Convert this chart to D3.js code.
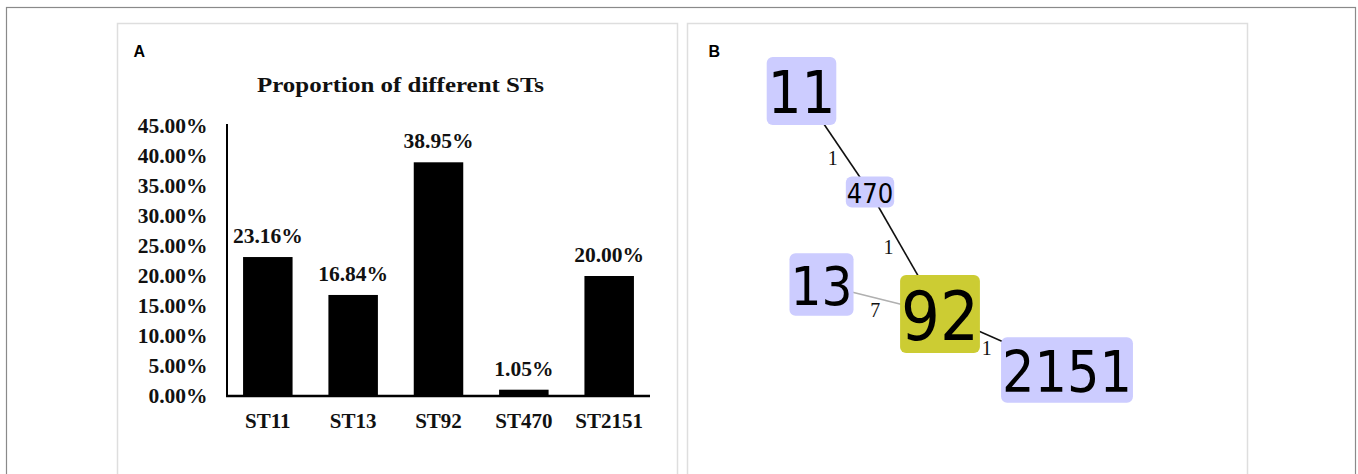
<!DOCTYPE html>
<html>
<head>
<meta charset="utf-8">
<script src="https://cdn.jsdelivr.net/npm/d3@7"></script>
<style>
html, body { margin: 0; padding: 0; background: #fff; }
svg { display: block; }
.serif { font-family: "Liberation Serif", "Times New Roman", serif; font-weight: bold; }
</style>
</head>
<body>
<svg id="fig" width="1358" height="474"></svg>
<script>
// ---- panel A: bar chart data ----
var categories = ["ST11", "ST13", "ST92", "ST470", "ST2151"];
var proportions = [23.16, 16.84, 38.95, 1.05, 20.00];
var yTicks = [0, 5, 10, 15, 20, 25, 30, 35, 40, 45];

// ---- panel B: minimum spanning tree data ----
var nodeNames = ["11", "470", "13", "92", "2151"];
var nodeCounts = [22, 1, 16, 37, 19];
var layoutX = [-138.5, -70, -118.5, 0, 127];
var layoutY = [-223, -122, -29.5, 0, 56];
var edgeSource = ["11", "470", "13", "92"];
var edgeTarget = ["470", "92", "92", "2151"];
var edgeDistance = [1, 1, 7, 1];

var svg = d3.select("#fig");

// outer frame and panel boxes
svg.append("rect")
    .attr("x", 6.5).attr("y", 7.5)
    .attr("width", 1349).attr("height", 490)
    .attr("fill", "none").attr("stroke", "#8a8a8a").attr("stroke-width", 1.2);

[[117, 677], [687, 1247]].forEach(function (p) {
    svg.append("rect")
        .attr("x", p[0] + 0.5).attr("y", 23.5)
        .attr("width", p[1] - p[0]).attr("height", 480)
        .attr("fill", "#fff").attr("stroke", "#dedede").attr("stroke-width", 1.5);
});

// panel letters
svg.append("text").attr("x", 133.5).attr("y", 57)
    .style("font-family", "Liberation Sans, Arial, sans-serif")
    .style("font-weight", "bold").style("font-size", "16px").text("A");
svg.append("text").attr("x", 708.5).attr("y", 57)
    .style("font-family", "Liberation Sans, Arial, sans-serif")
    .style("font-weight", "bold").style("font-size", "16px").text("B");

// ================= panel A =================
var data = categories.map(function (c, i) { return { name: c, value: proportions[i] }; });

var x = d3.scaleBand()
    .domain(categories)
    .range([226, 651])
    .paddingInner(0.42)
    .paddingOuter(0.2);

var y = d3.scaleLinear()
    .domain([0, 45])
    .range([396, 126]);

var chartA = svg.append("g");

chartA.append("text")
    .attr("class", "serif")
    .attr("x", 400.5).attr("y", 92)
    .attr("text-anchor", "middle")
    .style("font-size", "22px")
    .attr("textLength", 287)
    .attr("lengthAdjust", "spacingAndGlyphs")
    .attr("fill", "#111")
    .text("Proportion of different STs");

var yAxis = d3.axisLeft(y)
    .tickValues(yTicks)
    .tickFormat(function (d) { return d.toFixed(2) + "%"; })
    .tickSize(0)
    .tickPadding(19.5);

var gy = chartA.append("g")
    .attr("transform", "translate(227,0)")
    .call(yAxis);
gy.select(".domain").attr("stroke", "#000").attr("stroke-width", 2)
    .attr("d", "M0," + (y(45) - 2) + "V" + y(0));
gy.selectAll("text")
    .attr("class", "serif")
    .style("font-size", "21.5px")
    .attr("fill", "#111");

chartA.selectAll(".bar")
    .data(data)
    .enter()
    .append("rect")
    .attr("class", "bar")
    .attr("x", function (d) { return x(d.name); })
    .attr("width", x.bandwidth())
    .attr("y", function (d) { return y(d.value); })
    .attr("height", function (d) { return y(0) - y(d.value); })
    .attr("fill", "#000");

chartA.selectAll(".value")
    .data(data)
    .enter()
    .append("text")
    .attr("class", "serif")
    .attr("x", function (d) { return x(d.name) + x.bandwidth() / 2; })
    .attr("y", function (d) { return y(d.value) - 14; })
    .attr("text-anchor", "middle")
    .style("font-size", "21.5px")
    .attr("fill", "#111")
    .text(function (d) { return d.value.toFixed(2) + "%"; });

var xAxis = d3.axisBottom(x)
    .tickSize(0)
    .tickPadding(17.5);

var gx = chartA.append("g")
    .attr("transform", "translate(0," + y(0) + ")")
    .call(xAxis);
gx.select(".domain").attr("stroke", "#000").attr("stroke-width", 2.5)
    .attr("d", "M226,0H650");
gx.selectAll("text")
    .attr("class", "serif")
    .style("font-size", "21px")
    .attr("fill", "#111");

// ================= panel B =================
var px = d3.scaleLinear().domain([-150, 150]).range([790, 1090]);
var py = d3.scaleLinear().domain([-250, 100]).range([64, 414]);
var fontScale = d3.scalePow().exponent(0.3).domain([1, 37]).range([27, 68]);

var nodes = nodeNames.map(function (n, i) {
    return { name: n, count: nodeCounts[i], x: px(layoutX[i]), y: py(layoutY[i]), fs: fontScale(nodeCounts[i]) };
});
var byName = {};
nodes.forEach(function (n) { byName[n.name] = n; });

var links = edgeSource.map(function (s, i) {
    return { source: byName[s], target: byName[edgeTarget[i]], dist: edgeDistance[i] };
});

var chartB = svg.append("g");
var gLinks = chartB.append("g");
var gNodes = chartB.append("g");
var gLabels = chartB.append("g");

// nodes first (to measure text), boxes sit under the text
var nodeG = gNodes.selectAll(".node")
    .data(nodes)
    .enter()
    .append("g")
    .attr("class", "node");

nodeG.append("rect").attr("class", "box");
nodeG.append("text")
    .attr("x", function (d) { return d.x; })
    .attr("y", function (d) { return d.y + d.fs * 0.364 + 1; })
    .attr("text-anchor", "middle")
    .attr("font-family", "DejaVu Sans Condensed, DejaVu Sans, Verdana, sans-serif")
    .style("font-stretch", "condensed")
    .attr("font-size", function (d) { return d.fs; })
    .attr("fill", "#000")
    .text(function (d) { return d.name; })
    .each(function (d) {
        d.w = this.getComputedTextLength() + 2;
        d.h = d.fs * 1.15;
    });

nodeG.select("rect.box")
    .attr("x", function (d) { return d.x - d.w / 2; })
    .attr("y", function (d) { return d.y - d.h / 2; })
    .attr("width", function (d) { return d.w; })
    .attr("height", function (d) { return d.h; })
    .attr("rx", 6).attr("ry", 6)
    .attr("fill", function (d) { return d.name === "92" ? "#cccc33" : "#ccccff"; });

gLinks.selectAll("line")
    .data(links)
    .enter()
    .append("line")
    .attr("x1", function (d) { return d.source.x; })
    .attr("y1", function (d) { return d.source.y; })
    .attr("x2", function (d) { return d.target.x; })
    .attr("y2", function (d) { return d.target.y; })
    .attr("stroke", function (d) { return d.dist > 1 ? "#b0b0b0" : "#111"; })
    .attr("stroke-width", 1.6);

// point where the segment leaves a node box
function exitT(n, dx, dy) {
    var tx = dx === 0 ? Infinity : (n.w / 2) / Math.abs(dx);
    var ty = dy === 0 ? Infinity : (n.h / 2) / Math.abs(dy);
    return Math.min(tx, ty);
}

gLabels.selectAll("text")
    .data(links)
    .enter()
    .append("text")
    .style("font-family", "Liberation Serif, Times New Roman, serif")
    .style("font-size", "20px")
    .attr("fill", "#111")
    .attr("text-anchor", "middle")
    .each(function (d) {
        var dx = d.target.x - d.source.x, dy = d.target.y - d.source.y;
        var t0 = exitT(d.source, dx, dy), t1 = 1 - exitT(d.target, dx, dy);
        var tm = (t0 + t1) / 2;
        var len = Math.sqrt(dx * dx + dy * dy);
        var mx = d.source.x + dx * tm, my = d.source.y + dy * tm;
        var ox = -dy / len * 13, oy = dx / len * 13;
        d3.select(this)
            .attr("x", mx + ox + 1.5)
            .attr("y", my + oy + 6.5);
    })
    .text(function (d) { return d.dist; });
</script>
</body>
</html>
